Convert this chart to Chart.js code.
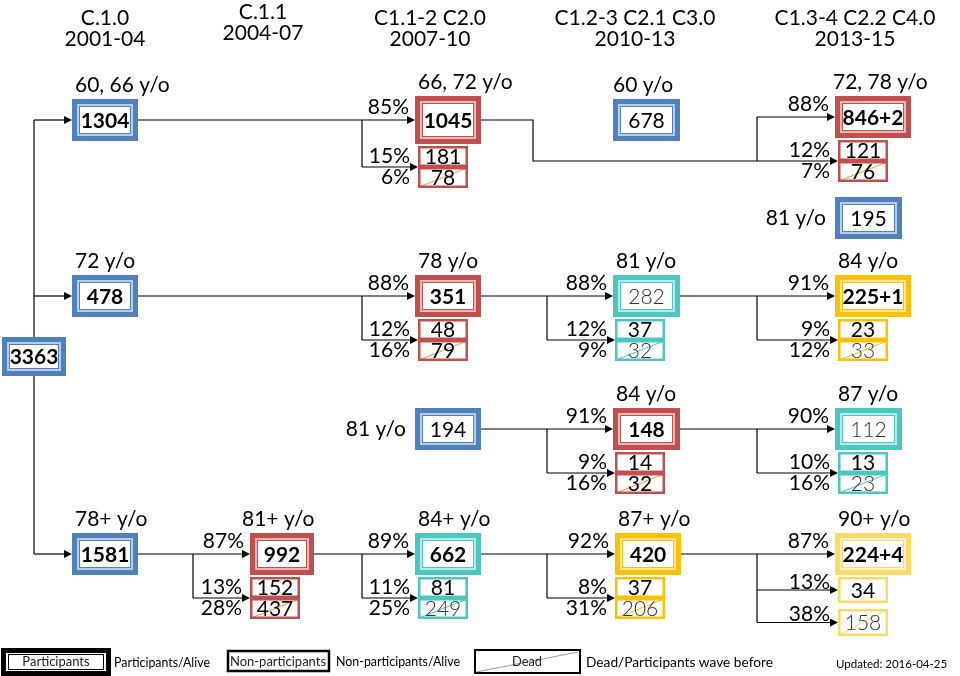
<!doctype html>
<html lang="en">
  <head>
    <meta charset="utf-8">
    <title>Cohort flow</title>
    <script src="https://cdn.jsdelivr.net/npm/chart.js@4.4.1/dist/chart.umd.min.js"></script>
    <style>
      body { margin: 0; background: #fff; }
      #flow-chart { display: block; }
    </style>
  </head>
  <body>
    <canvas id="flow-chart" width="960" height="676"></canvas>

    <script>
        // waves (columns)
        const waveNames   = ['C.1.0', 'C.1.1', 'C1.1-2 C2.0', 'C1.2-3 C2.1 C3.0', 'C1.3-4 C2.2 C4.0']
        const wavePeriods = ['2001-04', '2004-07', '2007-10', '2010-13', '2013-15']
        const baselineTotal = '3363'

        // main boxes
        const nodeIds    = ['A0', 'B0', 'D0', 'D1', 'A2', 'B2', 'C2', 'D2', 'A3', 'B3', 'C3', 'D3', 'A4', 'A4b', 'B4', 'C4', 'D4']
        const nodeCounts = ['1304', '478', '1581', '992', '1045', '351', '194', '662', '678', '282', '148', '420', '846+2', '195', '225+1', '112', '224+4']
        const nodeAges   = ['60, 66 y/o', '72 y/o', '78+ y/o', '81+ y/o', '66, 72 y/o', '78 y/o', '81 y/o', '84+ y/o', '60 y/o', '81 y/o', '84 y/o', '87+ y/o', '72, 78 y/o', '81 y/o', '84 y/o', '87 y/o', '90+ y/o']
        const nodeParticipants = [true, true, true, true, true, true, false, true, false, false, true, true, true, false, true, false, true]

        // follow-up of the previous wave
        const retainedPct   = [null, null, null, 87, 85, 88, null, 89, null, 88, 91, 92, 88, null, 91, 90, 87]
        const nonPartCounts = [null, null, null, 152, 181, 48, null, 81, null, 37, 14, 37, 121, null, 23, 13, 34]
        const nonPartPct    = [null, null, null, 13, 15, 12, null, 11, null, 12, 9, 8, 12, null, 9, 10, 13]
        const deadCounts    = [null, null, null, 437, 78, 79, null, 249, null, 32, 32, 206, 76, null, 33, 23, 158]
        const deadPct       = [null, null, null, 28, 6, 16, null, 25, null, 9, 16, 31, 7, null, 12, 16, 38]

        const flowFrom = ['root', 'root', 'root', 'A0', 'A2', 'B0', 'B2', 'B3', 'C2', 'C3', 'D0', 'D1', 'D2', 'D3']
        const flowTo   = ['A0', 'B0', 'D0', 'A2', 'A4', 'B2', 'B3', 'B4', 'C3', 'C4', 'D1', 'D2', 'D3', 'D4']

        const legendLabels = ['Participants', 'Participants/Alive', 'Non-participants', 'Non-participants/Alive', 'Dead', 'Dead/Participants wave before']
        const updatedText = 'Updated: 2016-04-25'

        // ---- layout & styles (drawing units = scale values) ----
        const colLeft = [72, 250, 415, 613, 835]
        const branchX = [34, 193, 362, 547, 757]
        const smallDx = [0, 0, 3, 2, 3]
        const rowY = { A: 120, A4b: 218, B: 296, C: 429, D: 554 }
        const headerX = [105, 263, 430, 635, 855]
        const headerY = [18, 12, 18, 18, 18]

        const layout = {
            A0: { col: 0, row: 'A' }, B0: { col: 0, row: 'B' }, D0: { col: 0, row: 'D' },
            D1: { col: 1, row: 'D', w: 64, ageDx: -8 },
            A2: { col: 2, row: 'A', h: 48 }, B2: { col: 2, row: 'B' }, C2: { col: 2, row: 'C', ageLeft: true },
            D2: { col: 2, row: 'D' },
            A3: { col: 3, row: 'A', w: 67, ageDx: 0 }, B3: { col: 3, row: 'B', w: 67 }, C3: { col: 3, row: 'C', w: 67 },
            D3: { col: 3, row: 'D', dx: 2 },
            A4: { col: 4, row: 'A', w: 76, dy: -3, detourX: 533, ageDx: -2 }, A4b: { col: 4, row: 'A4b', w: 67, ageLeft: true },
            B4: { col: 4, row: 'B', w: 76 }, C4: { col: 4, row: 'C', w: 67 }, D4: { col: 4, row: 'D', w: 76, split: true }
        }

        const palette = {
            blue:  { line: '#4f81bd', pale: '#b9cde5' },
            red:   { line: '#c0504d', pale: '#e6b9b8', diag: '#f79646' },
            teal:  { line: '#4bc6c0', pale: '#b7ebe8', diag: '#4bc6c0' },
            gold:  { line: '#ffc000', pale: '#ffe699', diag: '#ffc000' },
            lgold: { line: '#ffd966', pale: '#fff2cc', diag: '#ffd966' }
        }
        const nodeColour = {
            A0: 'blue', B0: 'blue', D0: 'blue', C2: 'blue', A3: 'blue', A4b: 'blue',
            D1: 'red', A2: 'red', B2: 'red', C3: 'red', A4: 'red',
            D2: 'teal', B3: 'teal', C4: 'teal',
            D3: 'gold', B4: 'gold', D4: 'lgold'
        }
        const lightText = ['B3', 'C4']

        const FONT = 'Lato, "Open Sans", sans-serif'

        function font(size, weight) {
            return (weight || 'normal') + ' ' + size + 'px ' + FONT
        }

        const flowPlugin = {
            id: 'flow',
            afterDraw(chart) {
                const ctx = chart.ctx
                const X = v => chart.scales.x.getPixelForValue(v)
                const Y = v => chart.scales.y.getPixelForValue(v)

                function geom(i) {
                    const lay = layout[nodeIds[i]]
                    const left = colLeft[lay.col] + (lay.dx || 0)
                    const w = lay.w || 66
                    const h = lay.h || 42
                    const cy = rowY[lay.row] + (lay.dy || 0)
                    return { left: left, right: left + w, top: cy - h / 2, bottom: cy + h / 2, cx: left + w / 2, cy: cy }
                }

                function smallBoxes(i) {
                    if (nonPartCounts[i] === null) return []
                    const g = geom(i)
                    const lay = layout[nodeIds[i]]
                    const l = colLeft[lay.col] + smallDx[lay.col]
                    const r = l + 50
                    if (lay.split) {
                        const t1 = g.bottom + 2, b1 = t1 + 26
                        const t2 = b1 + 6, b2 = t2 + 27
                        return [
                            { l, r, t: t1, b: b1, text: nonPartCounts[i], pct: nonPartPct[i], ay: (t1 + b1) / 2, py: (t1 + b1) / 2 - 8 },
                            { l, r, t: t2, b: b2, text: deadCounts[i], pct: deadPct[i], dead: true, ay: (t2 + b2) / 2, py: (t2 + b2) / 2 - 8 }
                        ]
                    }
                    const t1 = g.bottom + 2, b1 = t1 + 21, b2 = b1 + 21
                    return [
                        { l, r, t: t1, b: b1, text: nonPartCounts[i], pct: nonPartPct[i], ay: b1, py: (t1 + b1) / 2 },
                        { l, r, t: b1, b: b2, text: deadCounts[i], pct: deadPct[i], dead: true, ay: b1, py: (b1 + b2) / 2 }
                    ]
                }

                function line(pts) {
                    ctx.beginPath()
                    ctx.moveTo(X(pts[0][0]), Y(pts[0][1]))
                    for (let k = 1; k < pts.length; k++) ctx.lineTo(X(pts[k][0]), Y(pts[k][1]))
                    ctx.stroke()
                }

                function arrow(x1, y, x2) {
                    line([[x1, y], [x2 - 6, y]])
                    ctx.beginPath()
                    ctx.moveTo(X(x2), Y(y))
                    ctx.lineTo(X(x2 - 8), Y(y) - 4)
                    ctx.lineTo(X(x2 - 8), Y(y) + 4)
                    ctx.closePath()
                    ctx.fill()
                }

                function mainBox(l, t, r, b, col) {
                    const x = X(l), y = Y(t), w = X(r) - x, h = Y(b) - y
                    ctx.fillStyle = col.line; ctx.fillRect(x, y, w, h)
                    ctx.fillStyle = col.pale; ctx.fillRect(x + 5, y + 5, w - 10, h - 10)
                    ctx.fillStyle = col.line; ctx.fillRect(x + 7, y + 7, w - 14, h - 14)
                    ctx.fillStyle = '#fff'; ctx.fillRect(x + 8, y + 8, w - 16, h - 16)
                }

                function text(str, x, y, size, weight, align, maxW, colour) {
                    ctx.font = font(size, weight)
                    ctx.textAlign = align || 'center'
                    ctx.textBaseline = 'middle'
                    ctx.fillStyle = colour || '#000'
                    if (maxW) ctx.fillText(str, X(x), Y(y), maxW)
                    else ctx.fillText(str, X(x), Y(y))
                }

                ctx.save()

                // headers
                waveNames.forEach((name, c) => {
                    text(name, headerX[c], headerY[c], 21)
                    text(wavePeriods[c], headerX[c], headerY[c] + 21, 21)
                })

                // connectors
                ctx.strokeStyle = '#000'
                ctx.fillStyle = '#000'
                ctx.lineWidth = 1.2
                const rootTargets = flowTo.filter((t, k) => flowFrom[k] === 'root').map(t => geom(nodeIds.indexOf(t)).cy)
                line([[branchX[0], Math.min(...rootTargets)], [branchX[0], Math.max(...rootTargets)]])

                flowFrom.forEach((from, k) => {
                    const ti = nodeIds.indexOf(flowTo[k])
                    const t = geom(ti)
                    const lay = layout[flowTo[k]]
                    const bx = branchX[lay.col]
                    ctx.strokeStyle = '#000'
                    ctx.fillStyle = '#000'
                    if (from === 'root') {
                        arrow(bx, t.cy, t.left)
                        return
                    }
                    const s = geom(nodeIds.indexOf(from))
                    const smalls = smallBoxes(ti)
                    const juncs = smalls.map(sb => sb.ay)
                    if (lay.detourX) {
                        line([[s.right, s.cy], [lay.detourX, s.cy], [lay.detourX, juncs[0]], [bx, juncs[0]]])
                        line([[bx, juncs[0]], [bx, t.cy]])
                    } else {
                        line([[s.right, s.cy], [bx, s.cy]])
                        line([[bx, s.cy], [bx, Math.max(...juncs)]])
                    }
                    arrow(bx, t.cy, t.left)
                    const seen = {}
                    smalls.forEach(sb => {
                        if (seen[sb.ay]) return
                        seen[sb.ay] = true
                        arrow(bx, sb.ay, sb.l)
                    })
                })

                // baseline box
                mainBox(2, 337, 66, 376, palette.blue)
                text(baselineTotal, 34, 357, 21, 'bold')

                // wave boxes
                nodeIds.forEach((id, i) => {
                    const g = geom(i)
                    const col = palette[nodeColour[id]]
                    const lay = layout[id]
                    mainBox(g.left, g.top, g.right, g.bottom, col)
                    const weight = nodeParticipants[i] ? 'bold' : (lightText.includes(id) ? '300' : 'normal')
                    text(nodeCounts[i], g.cx, g.cy + 1, 21, weight, 'center', null, lightText.includes(id) ? '#333' : '#000')

                    if (lay.ageLeft) text(nodeAges[i], g.left - 9, g.cy, 21, 'normal', 'right')
                    else text(nodeAges[i], g.left + (lay.ageDx !== undefined ? lay.ageDx : 3), g.top - 14, 21, 'normal', 'left')

                    if (retainedPct[i] !== null) text(retainedPct[i] + '%', g.left - 6, g.cy - 13, 21, 'normal', 'right')

                    smallBoxes(i).forEach(sb => {
                        const x = X(sb.l), y = Y(sb.t), w = X(sb.r) - x, h = Y(sb.b) - y
                        ctx.fillStyle = '#fff'
                        ctx.fillRect(x, y, w, h)
                        if (sb.dead) {
                            ctx.strokeStyle = col.diag
                            ctx.lineWidth = 1
                            line([[sb.l + 1, sb.b - 1], [sb.r - 1, sb.t + 1]])
                        }
                        ctx.strokeStyle = col.line
                        ctx.lineWidth = 2.5
                        ctx.strokeRect(x + 1.25, y + 1.25, w - 2.5, h - 2.5)
                        const faint = sb.dead && nodeColour[id] !== 'red'
                        text(String(sb.text), (sb.l + sb.r) / 2, (sb.t + sb.b) / 2 + 1, 21, faint ? '300' : 'normal', 'center', null, faint ? '#333' : '#000')
                        text(sb.pct + '%', sb.l - 8, sb.py, 21, 'normal', 'right')
                    })
                })

                // legend
                ctx.fillStyle = '#000'
                ctx.fillRect(X(1), Y(648), 110, 28)
                ctx.fillStyle = '#fff'
                ctx.fillRect(X(6), Y(653), 100, 18)
                ctx.strokeStyle = '#000'
                ctx.lineWidth = 1
                ctx.strokeRect(X(8) + 0.5, Y(654) + 0.5, 95, 15)
                text(legendLabels[0], 56, 662, 13, 'normal', 'center', 70, '#222')
                text(legendLabels[1], 114, 662, 14, 'normal', 'left', 96)

                ctx.lineWidth = 2.5
                ctx.strokeRect(X(228), Y(651), 101, 20)
                text(legendLabels[2], 278, 661, 14, 'normal', 'center', 96, '#222')
                text(legendLabels[3], 336, 661, 14, 'normal', 'left', 124)

                ctx.strokeStyle = '#999'
                ctx.lineWidth = 1
                line([[476, 672], [578, 652]])
                ctx.strokeStyle = '#000'
                ctx.lineWidth = 2
                ctx.strokeRect(X(475), Y(650), 105, 23)
                text(legendLabels[4], 527, 662, 13, 'normal', 'center', 30, '#222')
                text(legendLabels[5], 586, 662, 14, 'normal', 'left', 187)

                text(updatedText, 836, 664, 11.5, 'normal', 'left', 119)

                ctx.restore()
            }
        }

        const flowChart = new Chart(document.getElementById('flow-chart'), {
            type: 'scatter',
            data: { datasets: [] },
            options: {
                responsive: false,
                animation: false,
                devicePixelRatio: 1,
                layout: { padding: 0 },
                plugins: { legend: { display: false }, tooltip: { enabled: false } },
                scales: {
                    x: { type: 'linear', min: 0, max: 960, display: false },
                    y: { type: 'linear', min: 0, max: 676, reverse: true, display: false }
                }
            },
            plugins: [flowPlugin]
        })
    </script>
  </body>
</html>
